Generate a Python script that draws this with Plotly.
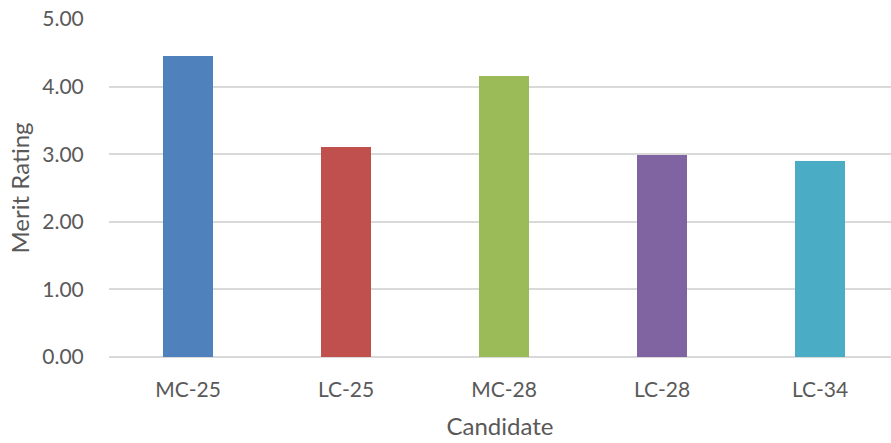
import plotly.graph_objects as go

categories = ["MC-25", "LC-25", "MC-28", "LC-28", "LC-34"]
values = [4.46, 3.10, 4.15, 2.99, 2.90]
colors = ["#4F81BD", "#C0504D", "#9BBB59", "#8064A2", "#4BACC6"]
yticks = [0, 1, 2, 3, 4, 5]

fig = go.Figure(go.Bar(x=categories, y=values, marker_color=colors, width=0.316,
                       marker_line_width=0))

font_family = "Lato, 'Open Sans', sans-serif"
fig.update_layout(
    width=891, height=443,
    margin=dict(l=109, r=0, t=19, b=86),
    plot_bgcolor="white", paper_bgcolor="white",
    showlegend=False,
    font=dict(family=font_family, size=21, color="#595959"),
    bargap=0,
)
fig.update_xaxes(
    range=[-0.5, 4.449],
    title=dict(text="Candidate", font=dict(size=24, color="#595959"), standoff=17),
    showgrid=False, showline=False, zeroline=False,
    ticks="outside", ticklen=14, tickcolor="rgba(0,0,0,0)",
    tickfont=dict(size=21, color="#595959"),
)
fig.update_yaxes(
    range=[0, 5], tickvals=yticks, tickformat=".2f",
    title=dict(text="Merit Rating", font=dict(size=24, color="#595959"), standoff=5),
    showgrid=True, gridcolor="#D9D9D9", gridwidth=1.5,
    zeroline=True, zerolinecolor="#D9D9D9", zerolinewidth=1.5,
    showline=False,
    ticks="outside", ticklen=20, tickcolor="rgba(0,0,0,0)",
    tickfont=dict(size=21, color="#595959"),
)

fig.write_html("out.html")
